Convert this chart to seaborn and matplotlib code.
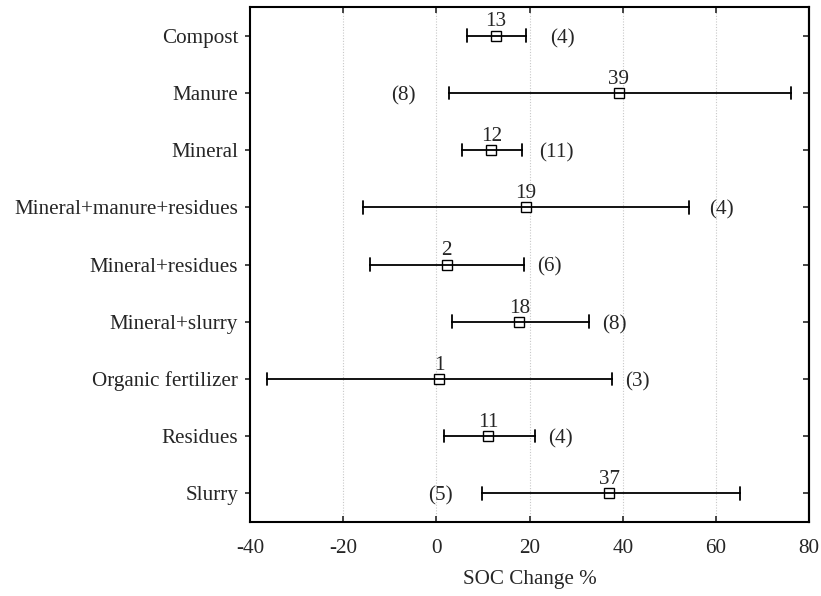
import numpy as np
import pandas as pd
import matplotlib
matplotlib.use('Agg')
import matplotlib.pyplot as plt
import seaborn as sns

# data
treatments = ['Compost', 'Manure', 'Mineral', 'Mineral+manure+residues',
              'Mineral+residues', 'Mineral+slurry', 'Organic fertilizer',
              'Residues', 'Slurry']
mean_change = [12.8, 39.1, 11.8, 19.2, 2.2, 17.8, 0.6, 11.1, 37.1]
ci_low = [6.5, 2.7, 5.6, -15.8, -14.3, 3.4, -36.3, 1.6, 9.7]
ci_high = [19.3, 76.2, 18.3, 54.3, 18.8, 32.8, 37.7, 21.1, 65.2]
n_obs = [4, 8, 11, 4, 6, 8, 3, 4, 5]

# where the "(n)" labels sit along x
n_label_x = [27.1, -7.0, 25.7, 61.1, 24.2, 38.2, 43.2, 26.7, 0.9]

FS = 15.2

sns.set_style('ticks')
plt.rcParams['font.family'] = ['Liberation Serif', 'DejaVu Serif']
plt.rcParams.update({
    'font.size': FS,
    'axes.unicode_minus': False,
    'axes.linewidth': 1.5,
    'xtick.direction': 'in',
    'ytick.direction': 'out',
    'xtick.major.size': 4,
    'ytick.major.size': 3.5,
    'xtick.major.width': 1.2,
    'ytick.major.width': 1.2,
    'axes.edgecolor': 'black',
})

# long table: lower / mean / upper per treatment -> median is the mean, range is the CI
df = pd.DataFrame({
    'treatment': np.repeat(treatments, 3),
    'value': np.ravel(np.column_stack([ci_low, mean_change, ci_high])),
})

fig = plt.figure(figsize=(8.21, 5.96), dpi=100)
ax = fig.add_axes([0.3045, 0.1242, 0.681, 0.8640])

for x in [-20, 0, 20, 40, 60]:
    ax.axvline(x, color='#c8c8c8', linestyle=(0, (1, 1.5)), linewidth=0.8, zorder=0)

sns.pointplot(data=df, x='value', y='treatment', order=treatments,
              estimator='median', errorbar=lambda v: (v.min(), v.max()),
              linestyle='none', marker='s', markersize=6.5,
              markerfacecolor='white', markeredgecolor='black', markeredgewidth=1.0,
              color='black', capsize=0.22, err_kws={'linewidth': 1.3},
              ax=ax)

for i, t in enumerate(treatments):
    ax.annotate(f'{round(mean_change[i])}', (mean_change[i], i),
                xytext=(0, 3), textcoords='offset points',
                ha='center', va='bottom', fontsize=FS)
    ax.annotate(f'({n_obs[i]})', (n_label_x[i], i),
                xytext=(0, -2), textcoords='offset points',
                ha='center', va='center', fontsize=FS)

ax.set_xlim(-40, 80)
ax.set_ylim(len(treatments) - 0.5, -0.5)
ax.set_xticks([-40, -20, 0, 20, 40, 60, 80])
ax.tick_params(axis='x', top=True, pad=12, labelsize=FS)
ax.tick_params(axis='y', left=True, right=False, pad=5, labelsize=FS)
# inward ticks on the right spine
ax2 = ax.secondary_yaxis('right')
ax2.set_yticks(range(len(treatments)))
ax2.tick_params(direction='in', length=4, width=1.2, labelright=False)
ax2.spines['right'].set_linewidth(1.5)

ax.set_xlabel('SOC Change %', fontsize=FS, labelpad=9)
ax.set_ylabel('')
for s in ax.spines.values():
    s.set_visible(True)
    s.set_linewidth(1.5)

fig.savefig('out.png', dpi=100)
